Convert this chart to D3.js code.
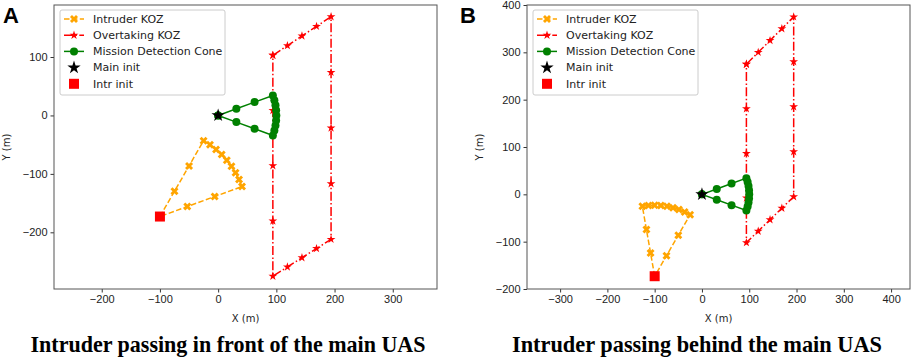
<!DOCTYPE html>
<html>
<head>
<meta charset="utf-8">
<script src="https://cdn.jsdelivr.net/npm/d3@7"></script>
<style>
  body { margin: 0; background: #fff; }
  svg { display: block; font-family: "DejaVu Sans", sans-serif; }
  .tick text { font-size: 11px; fill: #222; }
  .tick line { stroke: #333; }
  .domain { display: none; }
</style>
</head>
<body>
<div id="chart"></div>
<script>
// ---- data ----
const mainInit = [0, 0];
const intrInit = [-100, -173];

// mission detection cone, same in both panels
const coneX = [0, 31.3, 62.6, 94.0, 96.6, 98.5, 99.6, 100, 99.6, 98.5, 96.6, 94.0, 62.6, 31.3, 0];
const coneY = [0, 11.4, 22.8, 34.2, 25.9, 17.4, 8.7, 0, -8.7, -17.4, -25.9, -34.2, -22.8, -11.4, 0];

// panel A: intruder passing in front
const intrAX = [-100, -75, -50, -25, -14.0, -3.6, 6.1, 14.9, 22.9, 29.9, 35.9, 41.0, -6.0, -53.0, -100];
const intrAY = [-173, -129.7, -86.4, -43.1, -50.1, -58.1, -66.9, -76.6, -87.0, -98.0, -109.6, -121.7, -138.8, -155.9, -173];
const overAX = [94, 119, 144, 169, 194, 194, 194, 194, 194, 169, 144, 119, 94, 94, 94, 94, 94];
const overAY = [103, 119.5, 136, 152.5, 169, 73.75, -21.5, -116.75, -212, -227.75, -243.5, -259.25, -275, -180.5, -86, 8.5, 103];

// panel B: intruder passing behind
const intrBX = [-100, -108.7, -117.4, -126.0, -113.1, -100, -86.9, -74.0, -61.2, -48.7, -36.6, -25.0, -50, -75, -100];
const intrBY = [-173, -123.8, -74.5, -25.3, -23.6, -23.0, -23.6, -25.3, -28.1, -32.0, -37.1, -43.1, -86.4, -129.7, -173];
const overBX = [94, 119, 144, 169, 194, 194, 194, 194, 194, 169, 144, 119, 94, 94, 94, 94, 94];
const overBY = [275, 300, 325, 350, 375, 280, 185, 90, -5, -29.25, -53.5, -77.75, -102, -7.75, 86.5, 180.75, 275];

const ticksAX = [-200, -100, 0, 100, 200, 300];
const ticksAY = [-200, -100, 0, 100];
const ticksBX = [-300, -200, -100, 0, 100, 200, 300, 400];
const ticksBY = [-200, -100, 0, 100, 200, 300, 400];

const legendLabels = ["Intruder KOZ", "Overtaking KOZ", "Mission Detection Cone", "Main init", "Intr init"];

const orange = "#ffa500", red = "#ff0000", green = "#008000";

const svg = d3.select("#chart").append("svg")
    .attr("width", 913)
    .attr("height", 357);

const zip = (xs, ys) => xs.map((x, i) => [x, ys[i]]);

function drawPanel(p) {
    const x = d3.scaleLinear().domain(p.xDomain).range([p.left, p.right]);
    const y = d3.scaleLinear().domain(p.yDomain).range([p.bottom, p.top]);
    const g = svg.append("g");

    g.append("g")
        .attr("transform", `translate(0, ${p.bottom})`)
        .call(d3.axisBottom(x).tickValues(p.xTicks).tickSize(3.5).tickPadding(3));
    g.append("g")
        .attr("transform", `translate(${p.left}, 0)`)
        .call(d3.axisLeft(y).tickValues(p.yTicks).tickSize(3.5).tickPadding(3));

    // clip to plot area
    const clipId = "clip" + p.name;
    g.append("clipPath").attr("id", clipId)
        .append("rect")
        .attr("x", p.left).attr("y", p.top)
        .attr("width", p.right - p.left).attr("height", p.bottom - p.top);
    const plot = g.append("g").attr("clip-path", `url(#${clipId})`);

    const line = d3.line().x(d => x(d[0])).y(d => y(d[1]));

    const intr = zip(p.intrX, p.intrY);
    const over = zip(p.overX, p.overY);
    const cone = zip(coneX, coneY);

    // intruder KOZ
    plot.append("path").datum(intr)
        .attr("d", line).attr("fill", "none")
        .attr("stroke", orange).attr("stroke-width", 1.5)
        .attr("stroke-dasharray", "5.5,2.4");
    plot.selectAll(".mi").data(intr).join("path")
        .attr("transform", d => `translate(${x(d[0])},${y(d[1])}) rotate(45)`)
        .attr("d", d3.symbol(d3.symbolCross, 40))
        .attr("fill", orange);

    // overtaking KOZ
    plot.append("path").datum(over)
        .attr("d", line).attr("fill", "none")
        .attr("stroke", red).attr("stroke-width", 1.5)
        .attr("stroke-dasharray", "9,2.4,1.5,2.4");
    plot.selectAll(".mo").data(over).join("path")
        .attr("transform", d => `translate(${x(d[0])},${y(d[1])})`)
        .attr("d", d3.symbol(d3.symbolStar, 24))
        .attr("fill", red);

    // mission detection cone
    plot.append("path").datum(cone)
        .attr("d", line).attr("fill", "none")
        .attr("stroke", green).attr("stroke-width", 1.5);
    plot.selectAll(".mc").data(cone).join("circle")
        .attr("cx", d => x(d[0])).attr("cy", d => y(d[1]))
        .attr("r", 4).attr("fill", green);

    // initial positions
    plot.append("path")
        .attr("transform", `translate(${x(mainInit[0])},${y(mainInit[1])})`)
        .attr("d", d3.symbol(d3.symbolStar, 55))
        .attr("fill", "#000");
    plot.append("rect")
        .attr("x", x(intrInit[0]) - 5).attr("y", y(intrInit[1]) - 5)
        .attr("width", 10).attr("height", 10)
        .attr("fill", red);

    // frame
    g.append("rect")
        .attr("x", p.left).attr("y", p.top)
        .attr("width", p.right - p.left).attr("height", p.bottom - p.top)
        .attr("fill", "none").attr("stroke", "#555").attr("stroke-width", 1);

    // axis labels
    g.append("text")
        .attr("x", (p.left + p.right) / 2).attr("y", 322)
        .attr("text-anchor", "middle")
        .attr("font-size", 10).attr("fill", "#222")
        .text("X (m)");
    g.append("text")
        .attr("transform", `translate(${p.left - 44}, ${(p.top + p.bottom) / 2}) rotate(-90)`)
        .attr("text-anchor", "middle")
        .attr("font-size", 10).attr("fill", "#222")
        .text("Y (m)");

    // legend
    const lg = g.append("g").attr("transform", `translate(${p.left + 6}, 10)`);
    lg.append("rect")
        .attr("width", 165).attr("height", 85).attr("rx", 2)
        .attr("fill", "#fff").attr("fill-opacity", 0.8)
        .attr("stroke", "#ccc");
    const rowY = i => 9 + i * 16.2;
    legendLabels.forEach((label, i) => {
        const cy = rowY(i);
        if (i === 0) {
            lg.append("line").attr("x1", 4).attr("x2", 24).attr("y1", cy).attr("y2", cy)
                .attr("stroke", orange).attr("stroke-width", 1.5).attr("stroke-dasharray", "5.5,2.4");
            lg.append("path").attr("transform", `translate(14,${cy}) rotate(45)`)
                .attr("d", d3.symbol(d3.symbolCross, 40)).attr("fill", orange);
        } else if (i === 1) {
            lg.append("line").attr("x1", 4).attr("x2", 24).attr("y1", cy).attr("y2", cy)
                .attr("stroke", red).attr("stroke-width", 1.5).attr("stroke-dasharray", "9,2.4,1.5,2.4");
            lg.append("path").attr("transform", `translate(14,${cy})`)
                .attr("d", d3.symbol(d3.symbolStar, 24)).attr("fill", red);
        } else if (i === 2) {
            lg.append("line").attr("x1", 4).attr("x2", 24).attr("y1", cy).attr("y2", cy)
                .attr("stroke", green).attr("stroke-width", 1.5);
            lg.append("circle").attr("cx", 14).attr("cy", cy).attr("r", 4).attr("fill", green);
        } else if (i === 3) {
            lg.append("path").attr("transform", `translate(14,${cy})`)
                .attr("d", d3.symbol(d3.symbolStar, 55)).attr("fill", "#000");
        } else {
            lg.append("rect").attr("x", 9).attr("y", cy - 5).attr("width", 10).attr("height", 10)
                .attr("fill", red);
        }
        lg.append("text")
            .attr("x", 33).attr("y", cy).attr("dy", "0.35em")
            .attr("font-size", 11).attr("fill", "#222")
            .text(label);
    });

    // panel letter
    svg.append("text")
        .attr("x", p.letterX).attr("y", 23)
        .attr("font-family", "Liberation Sans, Arial, sans-serif")
        .attr("font-weight", "bold").attr("font-size", 22)
        .text(p.name);

    // caption
    svg.append("text")
        .attr("x", p.captionX).attr("y", 352)
        .attr("text-anchor", "middle")
        .attr("font-family", "Liberation Serif, Times New Roman, serif")
        .attr("font-weight", "bold").attr("font-size", 24)
        .attr("textLength", p.captionW).attr("lengthAdjust", "spacingAndGlyphs")
        .text(p.caption);
}

drawPanel({
    name: "A", left: 54, right: 437, top: 5, bottom: 289,
    xDomain: [-282, 376], yDomain: [-297, 189],
    xTicks: ticksAX, yTicks: ticksAY,
    intrX: intrAX, intrY: intrAY, overX: overAX, overY: overAY,
    letterX: 3, captionX: 228, captionW: 395,
    caption: "Intruder passing in front of the main UAS"
});

drawPanel({
    name: "B", left: 527, right: 910, top: 5, bottom: 289,
    xDomain: [-370, 440], yDomain: [-200, 400],
    xTicks: ticksBX, yTicks: ticksBY,
    intrX: intrBX, intrY: intrBY, overX: overBX, overY: overBY,
    letterX: 460, captionX: 697, captionW: 370,
    caption: "Intruder passing behind the main UAS"
});
</script>
</body>
</html>
